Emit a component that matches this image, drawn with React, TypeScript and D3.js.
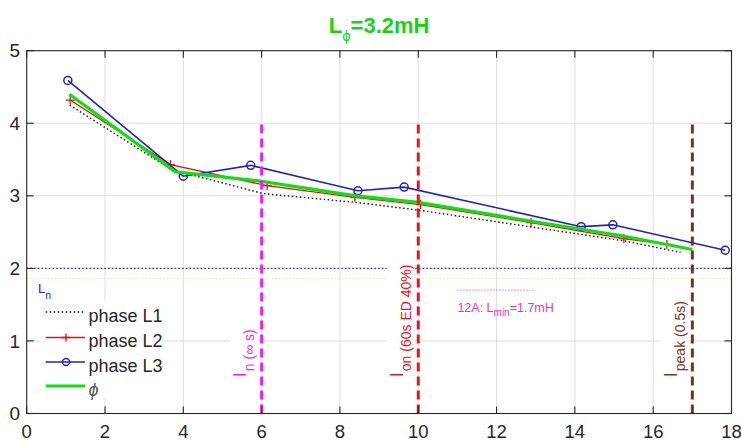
import React, { useEffect, useRef } from 'react';
import * as d3 from 'd3';

const W = 742;
const H = 441;

const xTicks = [0, 2, 4, 6, 8, 10, 12, 14, 16, 18];
const yTicks = [0, 1, 2, 3, 4, 5];

const phaseL1X = [1.1, 3.7, 6.05, 8.4, 10.05, 12.9, 15.25, 16.7];
const phaseL1Y = [4.25, 3.36, 3.03, 2.91, 2.8, 2.57, 2.38, 2.22];

const phaseL2X = [1.11, 3.67, 6.14, 8.38, 10.06, 12.88, 15.25, 16.35];
const phaseL2Y = [4.32, 3.43, 3.14, 2.98, 2.88, 2.63, 2.41, 2.33];

const phaseL3X = [1.05, 4.0, 5.72, 8.46, 9.64, 14.16, 14.97, 17.84];
const phaseL3Y = [4.59, 3.27, 3.42, 3.07, 3.12, 2.575, 2.6, 2.25];

const phiX = [1.09, 3.8, 6.0, 8.4, 10.0, 12.9, 15.2, 17.0];
const phiY = [4.4, 3.33, 3.2, 3.0, 2.91, 2.65, 2.45, 2.26];

const nominalLevel = 2;
const limitLevel = 1.86;

const markerLines = [
  { x: 6, top: 4, color: '#f01ef0', main: 'I', sub: 'n (\u221E s)' },
  { x: 10, top: 4, color: '#e8141c', main: 'I', sub: 'on (60s ED 40%)' },
  { x: 17, top: 4, color: '#7a3518', main: 'I', sub: 'peak (0.5s)' },
];

const minLine = { x0: 11, x1: 13, y: 1.7 };
const minLabel = { x: 11, y: 1.4, a: '12A: L', sub: 'min', b: '=1.7mH' };

const legendItems = [
  { label: 'phase L1', color: '#111', dash: '1.5,2.5', width: 1.4, marker: 'none' },
  { label: 'phase L2', color: '#e01010', dash: null, width: 1.3, marker: 'plus' },
  { label: 'phase L3', color: '#2222bb', dash: null, width: 1.5, marker: 'circle' },
  { label: '\u03D5', color: '#10e010', dash: null, width: 3.2, marker: 'none' },
];

const FONT = '"Liberation Sans", Arial, Helvetica, sans-serif';

export default function App() {
  const ref = useRef<SVGSVGElement>(null);

  useEffect(() => {
    const svg = d3.select(ref.current);
    svg.selectAll('*').remove();

    const x = d3.scaleLinear().domain([0, 18]).range([26.7, 731.5]);
    const y = d3.scaleLinear().domain([0, 5]).range([413.5, 50.7]);
    const [x0, x1] = x.range();
    const [y0, y1] = y.range();

    svg.append('rect').attr('width', W).attr('height', H).attr('fill', '#fff');

    // grid
    const grid = svg.append('g').attr('stroke', '#dedede').attr('stroke-width', 1);
    xTicks.slice(1, -1).forEach((t) => {
      grid.append('line').attr('x1', x(t)).attr('x2', x(t)).attr('y1', y0).attr('y2', y1);
    });
    yTicks.slice(1, -1).forEach((t) => {
      grid.append('line').attr('x1', x0).attr('x2', x1).attr('y1', y(t)).attr('y2', y(t));
    });

    // faint limit line
    svg.append('line')
      .attr('x1', x0).attr('x2', x1).attr('y1', y(limitLevel)).attr('y2', y(limitLevel))
      .attr('stroke', '#f3e6b6').attr('stroke-width', 1.2).attr('stroke-dasharray', '1.5,2');

    // nominal line
    svg.append('line')
      .attr('x1', x0).attr('x2', x1).attr('y1', y(nominalLevel)).attr('y2', y(nominalLevel))
      .attr('stroke', '#2a2a9a').attr('stroke-width', 1.2).attr('stroke-dasharray', '1.5,2.2');

    const line = d3.line<[number, number]>().x((d) => x(d[0])).y((d) => y(d[1]));
    const zip = (a: number[], b: number[]) => a.map((v, i) => [v, b[i]] as [number, number]);

    // L1
    svg.append('path').attr('d', line(zip(phaseL1X, phaseL1Y)))
      .attr('fill', 'none').attr('stroke', '#111').attr('stroke-width', 1.4)
      .attr('stroke-dasharray', '1.5,2.5');
    // L2
    const l2 = zip(phaseL2X, phaseL2Y);
    svg.append('path').attr('d', line(l2))
      .attr('fill', 'none').attr('stroke', '#e01010').attr('stroke-width', 1.3);
    l2.forEach((d) => {
      const cx = x(d[0]), cy = y(d[1]);
      svg.append('path').attr('d', `M${cx - 4.5},${cy}H${cx + 4.5}M${cx},${cy - 4.5}V${cy + 4.5}`)
        .attr('stroke', '#e01010').attr('stroke-width', 1.3);
    });
    // L3
    const l3 = zip(phaseL3X, phaseL3Y);
    svg.append('path').attr('d', line(l3))
      .attr('fill', 'none').attr('stroke', '#2222bb').attr('stroke-width', 1.6);
    l3.forEach((d) => {
      svg.append('circle').attr('cx', x(d[0])).attr('cy', y(d[1])).attr('r', 4)
        .attr('fill', 'none').attr('stroke', '#2222bb').attr('stroke-width', 1.5);
    });
    // phi
    svg.append('path').attr('d', line(zip(phiX, phiY)))
      .attr('fill', 'none').attr('stroke', '#10e010').attr('stroke-width', 3.2)
      .attr('stroke-linejoin', 'round');

    // vertical marker lines + labels
    markerLines.forEach((m) => {
      svg.append('line')
        .attr('x1', x(m.x)).attr('x2', x(m.x)).attr('y1', y(0)).attr('y2', y(m.top))
        .attr('stroke', m.color).attr('stroke-width', 3).attr('stroke-dasharray', '9,5');
      const g = svg.append('g')
        .attr('transform', `translate(${x(m.x - 0.4)},${y(0.5)}) rotate(-90)`);
      const bg = g.append('rect').attr('fill', '#fff');
      const t = g.append('text').attr('font-family', FONT).attr('fill', m.color)
        .attr('x', 0).attr('y', 0);
      t.append('tspan').attr('font-size', 18).text(m.main);
      t.append('tspan').attr('font-size', 14).attr('dy', 8).attr('dx', 1).text(m.sub);
      const bb = (t.node() as SVGTextElement).getBBox();
      bg.attr('x', bb.x - 1).attr('y', bb.y).attr('width', bb.width + 2).attr('height', bb.height);
    });

    // Lmin line and label
    svg.append('line')
      .attr('x1', x(minLine.x0)).attr('x2', x(minLine.x1))
      .attr('y1', y(minLine.y)).attr('y2', y(minLine.y))
      .attr('stroke', '#e050e0').attr('stroke-width', 1.2).attr('stroke-dasharray', '1,2');
    const ml = svg.append('text').attr('font-family', FONT).attr('fill', '#dd33dd')
      .attr('x', x(minLabel.x)).attr('y', y(minLabel.y)).attr('font-size', 12.5);
    ml.append('tspan').text(minLabel.a);
    ml.append('tspan').attr('font-size', 10).attr('dy', 4).text(minLabel.sub);
    ml.append('tspan').attr('dy', -4).text(minLabel.b);

    // axes box
    svg.append('rect').attr('x', x0).attr('y', y1).attr('width', x1 - x0).attr('height', y0 - y1)
      .attr('fill', 'none').attr('stroke', '#262626').attr('stroke-width', 1.1);
    const tk = svg.append('g').attr('stroke', '#262626').attr('stroke-width', 1.1);
    const TL = 7;
    xTicks.forEach((t) => {
      tk.append('line').attr('x1', x(t)).attr('x2', x(t)).attr('y1', y0).attr('y2', y0 - TL);
      tk.append('line').attr('x1', x(t)).attr('x2', x(t)).attr('y1', y1).attr('y2', y1 + TL);
    });
    yTicks.forEach((t) => {
      tk.append('line').attr('x1', x0).attr('x2', x0 + TL).attr('y1', y(t)).attr('y2', y(t));
      tk.append('line').attr('x1', x1).attr('x2', x1 - TL).attr('y1', y(t)).attr('y2', y(t));
    });
    xTicks.forEach((t) => {
      svg.append('text').attr('x', x(t)).attr('y', 437.5).attr('text-anchor', 'middle')
        .attr('font-family', FONT).attr('font-size', 18.5).attr('fill', '#262626').text(String(t));
    });
    yTicks.forEach((t) => {
      svg.append('text').attr('x', 20).attr('y', y(t)).attr('dy', '0.35em').attr('text-anchor', 'end')
        .attr('font-family', FONT).attr('font-size', 19).attr('fill', '#262626').text(String(t));
    });

    // title
    const title = svg.append('text').attr('x', x(9)).attr('y', 33).attr('text-anchor', 'middle')
      .attr('font-family', FONT).attr('font-weight', 'bold').attr('font-size', 22).attr('fill', '#19d119');
    title.append('tspan').text('L');
    title.append('tspan').attr('font-size', 15).attr('font-weight', 'normal').attr('dy', 8).text('\u03D5');
    title.append('tspan').attr('dy', -8).text('=3.2mH');

    // legend
    const lg = svg.append('g');
    lg.append('rect').attr('x', 40).attr('y', 301).attr('width', 124).attr('height', 97).attr('fill', '#fff');
    const ln = lg.append('text').attr('x', 38).attr('y', 293).attr('font-family', FONT)
      .attr('fill', '#2424c0').attr('font-size', 13);
    ln.append('tspan').text('L');
    ln.append('tspan').attr('font-size', 10.5).attr('dy', 6).text('n');
    const rowY = [312, 337.5, 362, 386];
    legendItems.forEach((it, i) => {
      const ry = rowY[i];
      const l = lg.append('line').attr('x1', 45.7).attr('x2', 85).attr('y1', ry).attr('y2', ry)
        .attr('stroke', it.color).attr('stroke-width', it.width);
      if (it.dash) l.attr('stroke-dasharray', it.dash);
      const mx = 66;
      if (it.marker === 'plus') {
        lg.append('path').attr('d', `M${mx - 4},${ry}H${mx + 4}M${mx},${ry - 4}V${ry + 4}`)
          .attr('stroke', it.color).attr('stroke-width', 1.3);
      } else if (it.marker === 'circle') {
        lg.append('circle').attr('cx', mx).attr('cy', ry).attr('r', 3.5)
          .attr('fill', 'none').attr('stroke', it.color).attr('stroke-width', 1.4);
      }
      const tx = lg.append('text').attr('x', 88.5).attr('y', ry + 9.5).attr('font-family', FONT)
        .attr('font-size', 18).attr('fill', '#262626').text(it.label);
      if (it.label === '\u03D5') tx.attr('font-style', 'italic').attr('fill', '#555');
    });
  }, []);

  return (
    <svg
      ref={ref}
      width={W}
      height={H}
      style={{ position: 'absolute', left: 0, top: 0, display: 'block' }}
    />
  );
}
